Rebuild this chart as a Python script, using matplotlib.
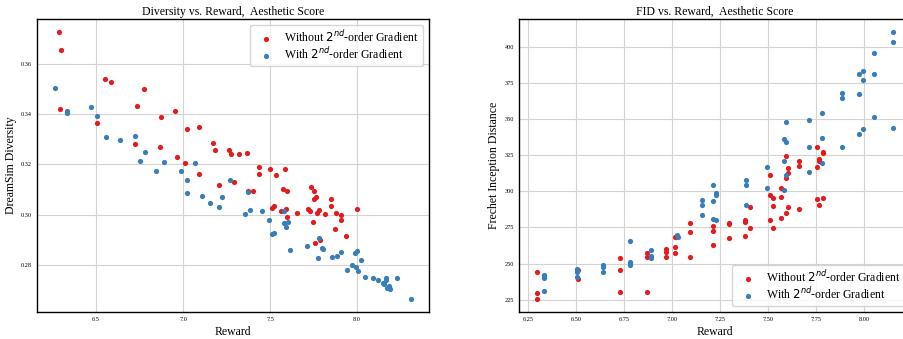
import matplotlib
matplotlib.use('Agg')
import matplotlib.pyplot as plt
from matplotlib.ticker import MultipleLocator

plt.rcParams['font.family'] = ['Liberation Serif', 'DejaVu Serif']

RED = '#e41a1c'
BLUE = '#377eb8'
label_wo = r'Without $2^{nd}$-order Gradient'
label_w = r'With $2^{nd}$-order Gradient'

# Diversity vs. Reward -- without 2nd-order gradient
div_wo_x = [6.289, 6.297, 6.295, 6.554, 6.584, 6.776, 6.734, 6.875, 6.954, 6.504,
            6.726, 6.870, 7.025, 7.092, 6.966, 7.013, 7.174, 7.182, 7.264, 7.276,
            7.324, 7.370, 7.439, 7.500, 7.588, 7.092, 7.209, 7.293, 7.375, 7.404,
            7.439, 7.533, 7.563, 7.577, 7.596, 7.590, 7.600, 7.510, 7.523, 7.655,
            7.718, 7.730, 7.736, 7.753, 7.753, 7.766, 7.749, 7.768, 7.784, 7.761,
            7.785, 7.815, 7.849, 7.851, 7.877, 7.876, 7.908, 7.908, 7.935, 8.000]
div_wo_y = [0.3725, 0.3656, 0.3419, 0.3540, 0.3526, 0.3501, 0.3434, 0.3389, 0.3413, 0.3363,
            0.3283, 0.3269, 0.3340, 0.3347, 0.3229, 0.3204, 0.3286, 0.3257, 0.3256, 0.3241,
            0.3241, 0.3247, 0.3188, 0.3183, 0.3181, 0.3163, 0.3120, 0.3131, 0.3094, 0.3094,
            0.3160, 0.3157, 0.3013, 0.3103, 0.3095, 0.3022, 0.2989, 0.3027, 0.3036, 0.3007,
            0.3021, 0.3014, 0.3111, 0.3095, 0.3062, 0.3070, 0.2971, 0.3007, 0.3017, 0.2887,
            0.2898, 0.3002, 0.3062, 0.3036, 0.3006, 0.2944, 0.2998, 0.2979, 0.2917, 0.3023]

# Diversity vs. Reward -- with 2nd-order gradient
div_w_x = [6.261, 6.331, 6.331, 6.473, 6.504, 6.559, 6.640, 6.726, 6.782, 6.753,
           6.889, 7.067, 6.843, 6.987, 7.021, 7.025, 7.109, 7.155, 7.209, 7.226,
           7.268, 7.374, 7.387, 7.358, 7.454, 7.496, 7.510, 7.521, 7.580, 7.582,
           7.603, 7.590, 7.615, 7.713, 7.778, 7.780, 7.800, 7.806, 7.858, 7.885,
           7.910, 7.943, 7.969, 7.994, 7.989, 8.000, 8.006, 8.025, 8.048, 8.090,
           8.121, 8.151, 8.155, 8.167, 8.169, 8.172, 8.182, 8.190, 8.186, 8.228,
           8.312]
div_w_y = [0.3505, 0.3411, 0.3404, 0.3429, 0.3391, 0.3310, 0.3297, 0.3314, 0.3249, 0.3212,
           0.3211, 0.3204, 0.3175, 0.3175, 0.3139, 0.3086, 0.3076, 0.3048, 0.3029, 0.3070,
           0.3139, 0.3090, 0.3020, 0.3002, 0.3014, 0.2979, 0.2925, 0.2928, 0.3015, 0.2967,
           0.2971, 0.2951, 0.2860, 0.2877, 0.2826, 0.2908, 0.2869, 0.2864, 0.2832, 0.2837,
           0.2853, 0.2781, 0.2799, 0.2792, 0.2849, 0.2856, 0.2775, 0.2820, 0.2752, 0.2747,
           0.2740, 0.2728, 0.2724, 0.2747, 0.2740, 0.2709, 0.2713, 0.2704, 0.2716, 0.2747,
           0.2666]

# FID vs. Reward -- without 2nd-order gradient
fid_wo_x = [6.293, 6.293, 6.293, 6.507, 6.507, 6.727, 6.727, 6.727, 6.870, 6.870,
            6.870, 6.967, 6.967, 6.967, 7.014, 7.014, 7.014, 7.092, 7.092, 7.092,
            7.212, 7.212, 7.212, 7.293, 7.293, 7.293, 7.377, 7.377, 7.377, 7.405,
            7.405, 7.509, 7.509, 7.509, 7.523, 7.523, 7.523, 7.566, 7.566, 7.566,
            7.590, 7.590, 7.590, 7.601, 7.601, 7.601, 7.658, 7.658, 7.658, 7.752,
            7.752, 7.752, 7.762, 7.762, 7.762, 7.786, 7.786, 7.786]
fid_wo_y = [243.9, 229.8, 225.7, 245.5, 239.3, 254.2, 245.5, 230.3, 257.2, 254.4,
            230.5, 259.9, 258.3, 254.3, 268.6, 261.4, 257.1, 278.4, 272.0, 254.7,
            276.1, 272.6, 262.7, 278.4, 277.2, 267.8, 280.1, 279.1, 269.4, 289.4,
            274.8, 311.5, 297.5, 280.2, 295.6, 289.6, 274.5, 302.5, 296.3, 281.4,
            324.4, 309.2, 285.3, 315.9, 312.7, 289.0, 321.3, 317.8, 287.6, 330.3,
            316.5, 294.7, 322.0, 320.8, 290.3, 327.5, 326.6, 295.6]

# FID vs. Reward -- with 2nd-order gradient
fid_w_x = [6.330, 6.330, 6.330, 6.330, 6.502, 6.502, 6.502, 6.502, 6.639, 6.639,
           6.639, 6.781, 6.781, 6.781, 6.781, 6.891, 6.891, 6.891, 7.026, 7.028,
           7.155, 7.155, 7.155, 7.212, 7.212, 7.212, 7.226, 7.226, 7.226, 7.386,
           7.386, 7.386, 7.495, 7.495, 7.583, 7.590, 7.594, 7.583, 7.592, 7.583,
           7.714, 7.714, 7.714, 7.780, 7.780, 7.780, 7.885, 7.885, 7.885, 7.972,
           7.972, 7.972, 7.995, 7.995, 7.995, 8.050, 8.050, 8.050, 8.151, 8.151,
           8.151]
fid_w_y = [242.0, 241.1, 240.2, 230.8, 246.4, 245.5, 244.3, 240.6, 248.7, 247.8,
           244.3, 265.3, 251.2, 250.3, 249.2, 259.4, 255.3, 253.8, 269.8, 268.7,
           294.2, 290.7, 283.8, 304.4, 293.6, 280.8, 299.1, 297.5, 280.3, 307.9,
           304.2, 290.7, 316.8, 302.5, 336.1, 334.0, 347.8, 321.1, 311.6, 300.8,
           349.2, 330.8, 313.1, 354.5, 337.2, 319.9, 368.2, 364.2, 330.8, 380.8,
           367.2, 339.8, 383.2, 377.2, 342.8, 395.8, 381.3, 351.3, 409.9, 403.5,
           343.7]

fig = plt.figure(figsize=(9.04, 3.39), dpi=100)
ax1 = fig.add_axes([0.0406, 0.0796, 0.434, 0.864])
ax2 = fig.add_axes([0.5738, 0.0796, 0.434, 0.864])


def style(ax):
    ax.grid(True, color='#d3d3d3', linewidth=0.8)
    ax.set_axisbelow(True)
    ax.tick_params(labelsize=4.5, length=0, pad=3.5)
    for s in ax.spines.values():
        s.set_color('black')
        s.set_linewidth(1.0)


leg_kw = dict(fontsize=8.5, handletextpad=0.6, borderpad=0.35, labelspacing=0.1)

ax1.scatter(div_wo_x, div_wo_y, s=14, color=RED, linewidths=0, label=label_wo)
ax1.scatter(div_w_x, div_w_y, s=14, color=BLUE, linewidths=0, label=label_w)
ax1.set_title('Diversity vs. Reward,  Aesthetic Score', fontsize=8.5, pad=3)
ax1.set_xlabel('Reward', fontsize=8.5, labelpad=3)
ax1.set_ylabel('DreamSim Diversity', fontsize=8.5, labelpad=3)
ax1.xaxis.set_major_locator(MultipleLocator(0.5))
ax1.yaxis.set_major_locator(MultipleLocator(0.02))
style(ax1)
ax1.legend(loc='upper right', **leg_kw)

ax2.scatter(fid_wo_x, fid_wo_y, s=14, color=RED, linewidths=0, label=label_wo)
ax2.scatter(fid_w_x, fid_w_y, s=14, color=BLUE, linewidths=0, label=label_w)
ax2.set_title('FID vs. Reward,  Aesthetic Score', fontsize=8.5, pad=3)
ax2.set_xlabel('Reward', fontsize=8.5, labelpad=3)
ax2.set_ylabel('Frechet Inception Distance', fontsize=8.5, labelpad=3)
ax2.xaxis.set_major_locator(MultipleLocator(0.25))
ax2.yaxis.set_major_locator(MultipleLocator(25))
style(ax2)
ax2.legend(loc='lower right', **leg_kw)

fig.savefig('out.png', dpi=100)
